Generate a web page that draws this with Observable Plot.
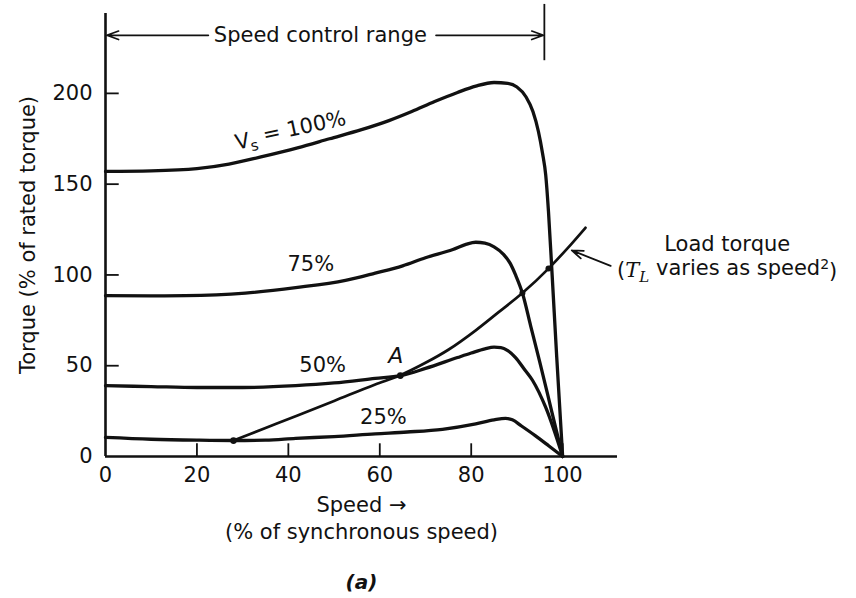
<!DOCTYPE html>
<html><head><meta charset="utf-8">
<script src="https://cdn.jsdelivr.net/npm/d3@7"></script>
<script src="https://cdn.jsdelivr.net/npm/@observablehq/plot@0.6"></script>
<style>
body{margin:0;background:#fff;}
svg{display:block;}
</style></head><body><div id="chart"></div>
<script>
// ---- data ----
const xTicks = [0, 20, 40, 60, 80, 100];
const yTicks = [0, 50, 100, 150, 200];

const speed100 = [0, 10, 20, 27, 34, 42, 49, 56, 62, 67, 72, 77, 81, 85, 88, 90, 92, 93.5, 94.7, 95.6, 96.3, 96.9, 97.7, 98.7, 100];
const torque100 = [157, 157.3, 158.5, 161, 165, 170, 175, 180, 185, 190, 195.5, 200.5, 204, 206, 205.5, 203.5, 198, 190, 179, 167, 155, 135, 100, 55, 0];

const speed75 = [0, 10, 17.5, 30.6, 41.6, 52.5, 59, 65, 70, 76, 79, 81, 83, 85, 87, 88.5, 89.7, 91.2, 93, 95, 97.5, 100];
const torque75 = [88.6, 88.5, 88.6, 90, 93, 97, 101, 105, 109.5, 114, 117, 118, 117.5, 115.5, 111.5, 106.5, 100, 90, 72, 52, 26, 0];

const speed50 = [0, 10, 20, 30, 41.6, 50, 59, 64.5, 70, 77, 80, 83, 85, 86.5, 88, 89.7, 91.5, 93.4, 96.3, 100];
const torque50 = [39, 38.5, 38, 38, 39, 40.5, 43, 44.5, 48.5, 54.5, 57, 59.3, 60.2, 60, 58.3, 54.5, 48.5, 42, 27, 0];

const speed25 = [0, 10, 20, 28, 35, 41.6, 50, 59, 66, 73.7, 81, 85, 87.5, 89, 91, 94, 97, 100];
const torque25 = [10.5, 9.5, 9, 8.8, 9, 10, 11, 12.5, 13.5, 15, 18, 20.2, 21, 20.2, 16.8, 11.5, 5.8, 0];

const loadSpeed = [28, 35, 42, 50, 59, 64.5, 70, 75, 81, 86, 91.2, 96.9, 101, 105];
const loadTorque = [8.8, 15.7, 22.6, 30.6, 39.7, 44.8, 51.6, 58.8, 69.5, 79.5, 90, 103.5, 114.5, 126];

const seriesNames = ["100%", "75%", "50%", "25%"];
const seriesSpeeds = [speed100, speed75, speed50, speed25];
const seriesTorques = [torque100, torque75, torque50, torque25];

const markedSpeed = [28, 64.5, 91.2, 96.9];
const markedTorque = [8.8, 44.6, 90, 103.5];
const markedRadius = [5, 5, 4, 4];

const curveLabels = ["Vs = 100%", "75%", "50%", "25%"];
const curveLabelX = [40.5, 44.9, 47.5, 60.8];
const curveLabelY = [179, 106, 50, 21.5];
const curveLabelRotate = [-12, 0, 0, 0];

// ---- tables ----
const rows = seriesNames.flatMap((s, i) => seriesSpeeds[i].map((x, j) => ({series: s, x, y: seriesTorques[i][j]})));
const loadRows = loadSpeed.map((x, i) => ({x, y: loadTorque[i]}));
const points = markedSpeed.map((x, i) => ({x, y: markedTorque[i], r: markedRadius[i]}));
const labelRows = curveLabels.map((t, i) => ({t, x: curveLabelX[i], y: curveLabelY[i], rot: curveLabelRotate[i]}));

const font = "DejaVu Sans";
const ink = "#111";
const fs = 21;

const chart = Plot.plot({
  width: 856,
  height: 598,
  marginLeft: 105,
  marginRight: 239,
  marginTop: 13,
  marginBottom: 142,
  x: {domain: [0, 112]},
  y: {domain: [0, 244]},
  style: {fontFamily: font, fontSize: fs + "px", color: ink, background: "#fff", overflow: "visible"},
  marks: [
    Plot.ruleY([0], {stroke: ink, strokeWidth: 2.6}),
    Plot.ruleX([0], {stroke: ink, strokeWidth: 2.6}),
    Plot.ruleX(xTicks.filter(d => d > 0), {y1: 0, y2: 7, stroke: ink, strokeWidth: 1.8}),
    Plot.ruleY(yTicks.filter(d => d > 0), {x1: 0, x2: 3, stroke: ink, strokeWidth: 1.8}),
    Plot.axisX(xTicks, {tickSize: 0, tickPadding: 11, label: null, fontSize: fs}),
    Plot.axisY(yTicks, {tickSize: 0, tickPadding: 13, label: null, fontSize: fs}),
    Plot.line(rows, {x: "x", y: "y", z: "series", stroke: ink, strokeWidth: 3.3, curve: "monotone-x"}),
    Plot.line(loadRows, {x: "x", y: "y", stroke: ink, strokeWidth: 2.7, curve: "monotone-x"}),
    Plot.dot(points, {x: "x", y: "y", r: "r", fill: ink, stroke: "none"}),
    Plot.text(labelRows, {x: "x", y: "y", text: "t", rotate: "rot", fontSize: fs, fill: ink}),
    Plot.text(["A"], {x: [63.5], y: [55.5], fontSize: 22, fontStyle: "italic", fill: ink}),
    // speed control range annotation
    Plot.arrow([{x1: 22.5, y1: 232, x2: 0.3, y2: 232}, {x1: 72.3, y1: 232, x2: 95.8, y2: 232}],
      {x1: "x1", y1: "y1", x2: "x2", y2: "y2", stroke: ink, strokeWidth: 1.7, headLength: 11, headAngle: 40}),
    Plot.ruleX([96], {y1: 218, y2: 249, stroke: ink, strokeWidth: 1.8}),
    Plot.text(["Speed control range"], {x: [47], y: [232], fontSize: fs, fill: ink}),
    // load torque annotation
    Plot.arrow([{x1: 110.5, y1: 105, x2: 102, y2: 113.5}],
      {x1: "x1", y1: "y1", x2: "x2", y2: "y2", stroke: ink, strokeWidth: 1.8, headLength: 10, headAngle: 40}),
    Plot.text(["Load torque"], {x: [136], y: [117], fontSize: fs, fill: ink}),
    Plot.text(["(TL varies as speed2)"], {x: [136], y: [102.5], fontSize: fs, fill: ink}),
    // axis titles
    Plot.text(["Torque (% of rated torque)"], {frameAnchor: "left", dx: -77, rotate: -90, textAnchor: "middle", fontSize: fs, fill: ink}),
    Plot.text(["Speed \u2192"], {frameAnchor: "bottom", dy: 55, fontSize: fs, fill: ink}),
    Plot.text(["(% of synchronous speed)"], {frameAnchor: "bottom", dy: 82, fontSize: fs, fill: ink}),
    Plot.text(["(a)"], {frameAnchor: "bottom", dy: 132, fontSize: 20, fontStyle: "italic", fontWeight: "bold", fill: ink})
  ]
});

document.getElementById("chart").appendChild(chart);

// rich text: subscripts / superscripts
const svg = d3.select(chart);
svg.selectAll("text").each(function() {
  const el = d3.select(this);
  const txt = this.textContent;
  if (txt === "Vs = 100%") {
    el.text(null);
    el.append("tspan").text("V");
    el.append("tspan").text("s").attr("font-size", "15").attr("dy", "0.3em");
    el.append("tspan").text(" = 100%").attr("dy", "-0.3em");
  } else if (txt === "(TL varies as speed2)") {
    el.text(null);
    el.append("tspan").text("(");
    el.append("tspan").text("T").attr("font-style", "italic").attr("font-family", "DejaVu Serif");
    el.append("tspan").text("L").attr("font-style", "italic").attr("font-family", "DejaVu Serif").attr("font-size", "15").attr("dy", "0.3em");
    el.append("tspan").text(" varies as speed").attr("dy", "-0.3em");
    el.append("tspan").text("2").attr("font-size", "14").attr("dy", "-0.45em");
    el.append("tspan").text(")").attr("dy", "0.45em");
  }
});
</script>
</body></html>
